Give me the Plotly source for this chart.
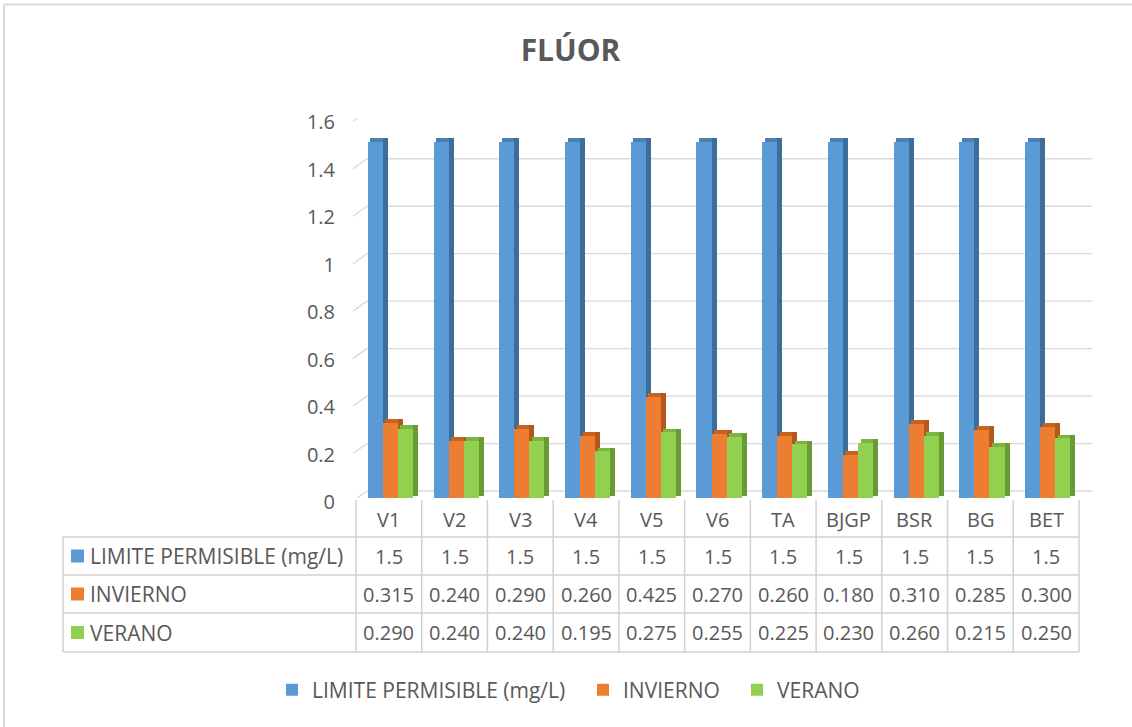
import plotly.graph_objects as go

categories = ["V1", "V2", "V3", "V4", "V5", "V6", "TA", "BJGP", "BSR", "BG", "BET"]
limite = [1.5, 1.5, 1.5, 1.5, 1.5, 1.5, 1.5, 1.5, 1.5, 1.5, 1.5]
invierno = [0.315, 0.240, 0.290, 0.260, 0.425, 0.270, 0.260, 0.180, 0.310, 0.285, 0.300]
verano = [0.290, 0.240, 0.240, 0.195, 0.275, 0.255, 0.225, 0.230, 0.260, 0.215, 0.250]
series_names = ["LIMITE PERMISIBLE (mg/L)", "INVIERNO", "VERANO"]
y_ticks = [0, 0.2, 0.4, 0.6, 0.8, 1.0, 1.2, 1.4, 1.6]

W, H = 1132, 727
FONT = "Open Sans"
TXT = "#595959"
GRID = "#d9d9d9"
FS = 21

front_col = ["#5b9bd5", "#ed7d31", "#92d050"]
side_col = ["#3e6d99", "#b4581c", "#6a9a35"]
top_col = ["#4a80b4", "#c7621f", "#7db441"]

def px(x):
    return x / W

def py(y):
    return 1 - y / H

# layout geometry (pixels)
tbl_left, plot_left, plot_right = 63, 356, 1079
col_w = (plot_right - plot_left) / len(categories)
y0_px, y16_px = 498, 118.3
unit_px = (y0_px - y16_px) / 1.6
row_lines = [537, 575, 613, 652]
hdr_top = 500
legend_left_px = [272, 583, 737]
legend_ids = ["legend", "legend2", "legend3"]

bw = 0.229
offsets = [-0.32, -0.091, 0.138]
dx = 0.076
dy = 3.8 / unit_px

idx = list(range(len(categories)))
data = [limite, invierno, verano]

fig = go.Figure()
for s, vals in enumerate(data):
    o = offsets[s]
    fig.add_trace(go.Bar(x=idx, y=vals, offset=o, width=bw, name=series_names[s],
                         legend=legend_ids[s],
                         marker=dict(color=front_col[s], line=dict(width=0)),
                         hoverinfo="skip"))
    fig.add_trace(go.Bar(x=idx, y=[dy] * len(vals), base=vals, offset=o + dx * 0.5,
                         width=bw + dx * 0.5, showlegend=False,
                         marker=dict(color=top_col[s], line=dict(width=0)), hoverinfo="skip"))
    fig.add_trace(go.Bar(x=idx, y=[v + dy * 0.5 for v in vals], base=[dy * 0.5] * len(vals),
                         offset=o + bw, width=dx, showlegend=False,
                         marker=dict(color=side_col[s], line=dict(width=0)), hoverinfo="skip"))

shapes = []
# back-wall gridlines with left-wall diagonal
back_off = 7 / unit_px
for v in y_ticks:
    shapes.append(dict(type="line", layer="below", xref="paper", yref="y",
                       x0=px(367), x1=px(1092), y0=v + back_off, y1=v + back_off,
                       line=dict(color=GRID, width=1.3)))
    shapes.append(dict(type="line", layer="below", xref="paper", yref="y",
                       x0=px(353), x1=px(367), y0=v + back_off - 10 / unit_px, y1=v + back_off,
                       line=dict(color=GRID, width=1.3)))

# table grid
tcol = "#d0d0d0"
for r in row_lines:
    shapes.append(dict(type="line", xref="paper", yref="paper", x0=px(tbl_left), x1=px(plot_right),
                       y0=py(r), y1=py(r), line=dict(color=tcol, width=1.5)))
shapes.append(dict(type="line", xref="paper", yref="paper", x0=px(tbl_left), x1=px(tbl_left),
                   y0=py(row_lines[0]), y1=py(row_lines[-1]), line=dict(color=tcol, width=1.5)))
for k in range(len(categories) + 1):
    xx = plot_left + k * col_w
    shapes.append(dict(type="line", xref="paper", yref="paper", x0=px(xx), x1=px(xx),
                       y0=py(hdr_top), y1=py(row_lines[-1]), line=dict(color=tcol, width=1.5)))

# outer chart-area border (top and left edges visible)
shapes.append(dict(type="line", xref="paper", yref="paper", x0=px(4), x1=1, y0=py(4.5), y1=py(4.5),
                   line=dict(color="#d9d9d9", width=2)))
shapes.append(dict(type="line", xref="paper", yref="paper", x0=px(4), x1=px(4), y0=py(4.5), y1=0,
                   line=dict(color="#d9d9d9", width=2)))

annotations = []
row_centers = [(row_lines[i] + row_lines[i + 1]) / 2 for i in range(3)]
hdr_center = (hdr_top + row_lines[0]) / 2 + 1
for i, c in enumerate(categories):
    cx = plot_left + (i + 0.5) * col_w
    annotations.append(dict(text=c, x=px(cx), y=py(hdr_center), xref="paper", yref="paper",
                            showarrow=False, xanchor="center", yanchor="middle",
                            font=dict(size=FS - 1, color=TXT, family=FONT)))
    for r, vals in enumerate(data):
        t = f"{vals[i]:g}" if r == 0 else f"{vals[i]:.3f}"
        annotations.append(dict(text=t, x=px(cx), y=py(row_centers[r]), xref="paper", yref="paper",
                                showarrow=False, xanchor="center", yanchor="middle",
                                font=dict(size=FS - 1, color=TXT, family=FONT)))
for r in range(3):
    annotations.append(dict(text=series_names[r], x=px(88), y=py(row_centers[r]), xref="paper",
                            yref="paper", showarrow=False, xanchor="left", yanchor="middle",
                            font=dict(size=FS, color=TXT, family=FONT)))
    shapes.append(dict(type="rect", xref="paper", yref="paper", x0=px(71), x1=px(84),
                       y0=py(row_centers[r] + 6.5), y1=py(row_centers[r] - 6.5),
                       fillcolor=front_col[r], line=dict(width=0)))

legend_common = dict(orientation="h", xanchor="left", y=py(690), yanchor="middle",
                     font=dict(size=FS, color=TXT, family=FONT), itemwidth=30,
                     bgcolor="rgba(0,0,0,0)")

fig.update_layout(
    width=W, height=H, margin=dict(l=0, r=0, t=0, b=0, autoexpand=False),
    paper_bgcolor="white", plot_bgcolor="rgba(0,0,0,0)",
    barmode="overlay", bargap=0,
    font=dict(family=FONT, color=TXT, size=FS),
    title=dict(text="<b>FLÚOR</b>", x=0.504, xanchor="center", y=py(50), yanchor="middle",
               font=dict(family=FONT, size=30, color=TXT)),
    xaxis=dict(domain=[px(plot_left), px(plot_right)], range=[-0.5, len(categories) - 0.5],
               showgrid=False, zeroline=False, showline=False, showticklabels=False, fixedrange=True),
    yaxis=dict(domain=[py(y0_px), py(y16_px)], range=[0, 1.6], tickvals=y_ticks,
               ticktext=[f"{v:g}" for v in y_ticks], showgrid=False, zeroline=False, showline=False,
               ticks="", ticklabelstandoff=20, ticklabelshift=4,
               tickfont=dict(size=FS - 1, color=TXT, family=FONT)),
    legend=dict(x=px(legend_left_px[0]), **legend_common),
    legend2=dict(x=px(legend_left_px[1]), **legend_common),
    legend3=dict(x=px(legend_left_px[2]), **legend_common),
    shapes=shapes, annotations=annotations,
)

fig.write_html("out.html")
